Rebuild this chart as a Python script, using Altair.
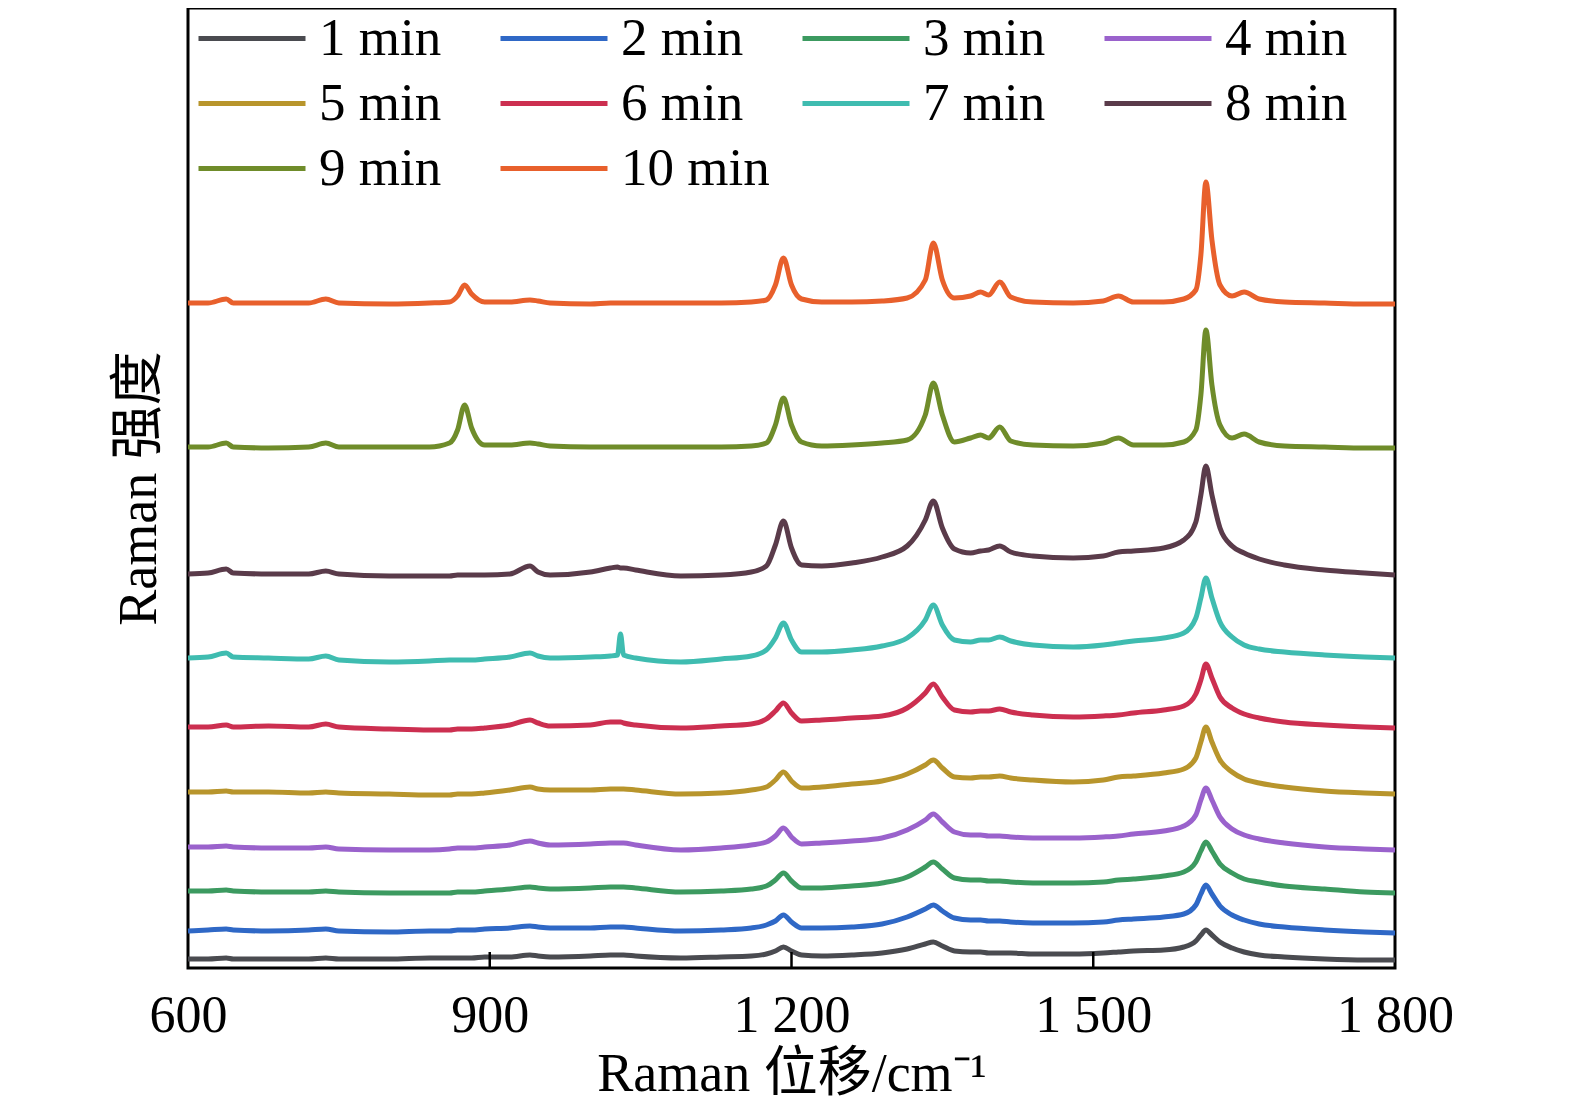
import altair as alt
import pandas as pd

shift_cm = [600, 620, 638, 645, 680, 720, 737, 750, 800, 840,
            860, 868, 875, 882, 895, 920, 940, 948, 960, 1000,
            1020, 1027, 1030, 1033, 1045, 1090, 1130, 1160, 1175, 1184,
            1192, 1200, 1210, 1230, 1260, 1290, 1315, 1333, 1341, 1350,
            1362, 1378, 1388, 1396, 1407, 1418, 1440, 1480, 1510, 1525,
            1540, 1570, 1590, 1602, 1607, 1612, 1618, 1626, 1638, 1650,
            1665, 1690, 1730, 1770, 1800]

series_names = ["1 min", "2 min", "3 min", "4 min", "5 min",
                "6 min", "7 min", "8 min", "9 min", "10 min"]
series_colors = ["#4a4b50", "#2f68c6", "#3c9a60", "#9a62cc", "#b8952c",
                 "#cc2f50", "#3fbcb0", "#5a3b4a", "#6f8c2a", "#e8602c"]

# vertical position of each curve (larger = lower on page)
read_1min = [959, 959, 958, 959, 959, 959, 958, 959, 959, 958,
             958, 958, 958, 958, 957, 957, 955, 956, 957, 956,
             955, 955, 955, 955, 956, 958, 957, 956, 954, 951,
             947, 951, 955, 956, 955, 953, 949, 944, 942, 946,
             951, 952, 952, 953, 953, 953, 954, 954, 953, 952,
             951, 950, 947, 941, 935, 930, 935, 942, 948, 952,
             955, 957, 959, 960, 960]
read_2min = [931, 930, 929, 930, 931, 930, 929, 931, 932, 931,
             931, 930, 930, 930, 929, 928, 926, 927, 928, 928,
             927, 927, 927, 927, 928, 931, 930, 928, 925, 921,
             915, 922, 928, 928, 927, 924, 917, 909, 905, 911,
             918, 920, 920, 921, 921, 922, 923, 923, 922, 920,
             919, 917, 914, 905, 894, 885, 894, 906, 915, 920,
             924, 927, 930, 932, 933]
read_3min = [891, 891, 890, 891, 892, 892, 891, 892, 893, 893,
             893, 892, 892, 892, 891, 889, 887, 888, 889, 888,
             887, 887, 887, 887, 888, 892, 891, 889, 886, 880,
             873, 881, 888, 888, 886, 883, 877, 867, 862, 869,
             878, 880, 880, 881, 881, 882, 883, 883, 882, 880,
             879, 876, 872, 862, 851, 842, 851, 864, 873, 879,
             882, 886, 889, 892, 893]
read_4min = [847, 847, 846, 847, 848, 848, 847, 849, 850, 850,
             849, 848, 848, 848, 847, 845, 841, 843, 845, 844,
             843, 843, 843, 843, 845, 850, 848, 845, 842, 836,
             828, 837, 844, 843, 841, 838, 830, 820, 814, 822,
             832, 835, 835, 836, 836, 837, 838, 838, 837, 836,
             834, 831, 826, 815, 800, 788, 800, 817, 829, 835,
             839, 843, 847, 849, 850]
read_5min = [792, 792, 791, 792, 792, 793, 792, 793, 794, 795,
             795, 794, 794, 794, 793, 790, 787, 789, 790, 790,
             789, 789, 789, 789, 790, 794, 793, 790, 787, 780,
             772, 781, 788, 787, 784, 781, 774, 765, 760, 768,
             777, 778, 777, 777, 776, 778, 780, 782, 780, 777,
             776, 773, 769, 758, 742, 727, 742, 760, 772, 779,
             783, 787, 791, 793, 794]
read_6min = [727, 727, 725, 727, 726, 727, 724, 727, 729, 730,
             730, 729, 729, 729, 728, 725, 720, 723, 726, 725,
             722, 722, 722, 723, 725, 728, 726, 724, 719, 711,
             703, 713, 721, 720, 718, 716, 708, 693, 684, 697,
             710, 712, 711, 711, 709, 712, 715, 717, 716, 715,
             713, 710, 706, 694, 680, 664, 678, 697, 708, 714,
             718, 722, 725, 727, 728]
read_7min = [658, 657, 653, 657, 658, 659, 656, 660, 662, 661,
             660, 660, 660, 660, 659, 657, 653, 656, 658, 657,
             656, 655, 634, 655, 658, 662, 659, 656, 650, 638,
             623, 640, 652, 652, 650, 646, 638, 620, 605, 625,
             640, 642, 640, 640, 637, 641, 645, 647, 645, 643,
             641, 638, 633, 618, 598, 578, 598, 622, 637, 645,
             649, 652, 655, 657, 658]
read_8min = [574, 573, 569, 573, 574, 574, 571, 574, 576, 576,
             576, 575, 575, 575, 575, 574, 566, 572, 575, 572,
             568, 567, 568, 568, 570, 576, 575, 572, 566, 545,
             521, 548, 565, 566, 563, 557, 546, 520, 501, 528,
             549, 553, 551, 550, 546, 552, 556, 558, 556, 552,
             551, 548, 540, 522, 495, 466, 495, 528, 546, 553,
             559, 565, 570, 573, 575]
read_9min = [447, 447, 443, 447, 448, 447, 443, 447, 447, 447,
             443, 430, 405, 428, 445, 445, 443, 444, 446, 447,
             447, 447, 447, 447, 447, 447, 447, 446, 443, 425,
             398, 425, 442, 446, 445, 443, 440, 415, 383, 415,
             442, 438, 435, 438, 427, 441, 445, 446, 443, 438,
             445, 445, 442, 430, 395, 330, 385, 425, 438, 434,
             442, 446, 447, 448, 448]
read_10min = [303, 303, 299, 303, 303, 303, 299, 303, 304, 303,
              302, 296, 285, 294, 302, 302, 300, 301, 303, 304,
              303, 303, 303, 303, 303, 303, 303, 302, 300, 285,
              258, 285, 299, 302, 302, 301, 298, 280, 243, 280,
              298, 296, 292, 295, 282, 297, 302, 303, 301, 296,
              302, 302, 299, 290, 255, 182, 240, 285, 296, 292,
              299, 302, 303, 304, 304]

all_reads = [read_1min, read_2min, read_3min, read_4min, read_5min,
             read_6min, read_7min, read_8min, read_9min, read_10min]

tick_positions = [900, 1200, 1500]
label_positions = [600, 900, 1200, 1500, 1800]

rows = []
for name, vals in zip(series_names, all_reads):
    for x, v in zip(shift_cm, vals):
        rows.append({"shift": x, "series": name, "intensity": 968 - v})
df = pd.DataFrame(rows)
ticks_df = pd.DataFrame({"shift": tick_positions})

FONT = "Liberation Serif, 'Noto Sans CJK SC', serif"

lines = alt.Chart(df).mark_line(strokeWidth=5, interpolate="monotone").encode(
    x=alt.X("shift:Q",
            scale=alt.Scale(domain=[600, 1800], nice=False, zero=False),
            axis=alt.Axis(values=label_positions, ticks=False, domain=False, grid=False,
                          labelExpr="datum.value < 1000 ? format(datum.value, 'd') : format(floor(datum.value / 1000), 'd') + ' ' + format(datum.value % 1000, '03d')",
                          labelFont=FONT, labelFontSize=52, labelColor="black",
                          labelPadding=22, labelFlush=False, labelOverlap=False,
                          title="Raman 位移/cm⁻¹", titleFont=FONT, titleFontSize=54,
                          titleFontWeight="normal", titleColor="black", titlePadding=6)),
    y=alt.Y("intensity:Q",
            scale=alt.Scale(domain=[0, 960], nice=False, zero=False),
            axis=alt.Axis(labels=False, ticks=False, domain=False, grid=False,
                          title="Raman 强度", titleFont=FONT, titleFontSize=54,
                          titleFontWeight="normal", titleColor="black", titlePadding=22)),
    color=alt.Color("series:N",
                    scale=alt.Scale(domain=series_names, range=series_colors),
                    sort=series_names,
                    legend=alt.Legend(orient="none", legendX=8, legendY=-2, columns=4,
                                      direction="horizontal", clipHeight=65,
                                      title=None, symbolType="stroke", symbolSize=11449,
                                      symbolStrokeWidth=5, labelFont=FONT, labelFontSize=53,
                                      labelColor="black", labelOffset=11, gridAlign="all",
                                      columnPadding=30, rowPadding=0, padding=0,
                                      labelLimit=400)),
)

inner_ticks = alt.Chart(ticks_df).mark_rule(color="black", strokeWidth=2.5).encode(
    x=alt.X("shift:Q"),
    y=alt.value(944),
    y2=alt.value(960),
)

chart = alt.layer(lines, inner_ticks).properties(
    width=1207, height=960,
    autosize=alt.AutoSizeParams(type="none"),
    padding={"left": 180, "top": 0, "right": 150, "bottom": 140},
    background="white",
).configure_view(stroke="black", strokeWidth=3)

chart.save("out.html", embed_options={"renderer": "svg", "actions": False})
